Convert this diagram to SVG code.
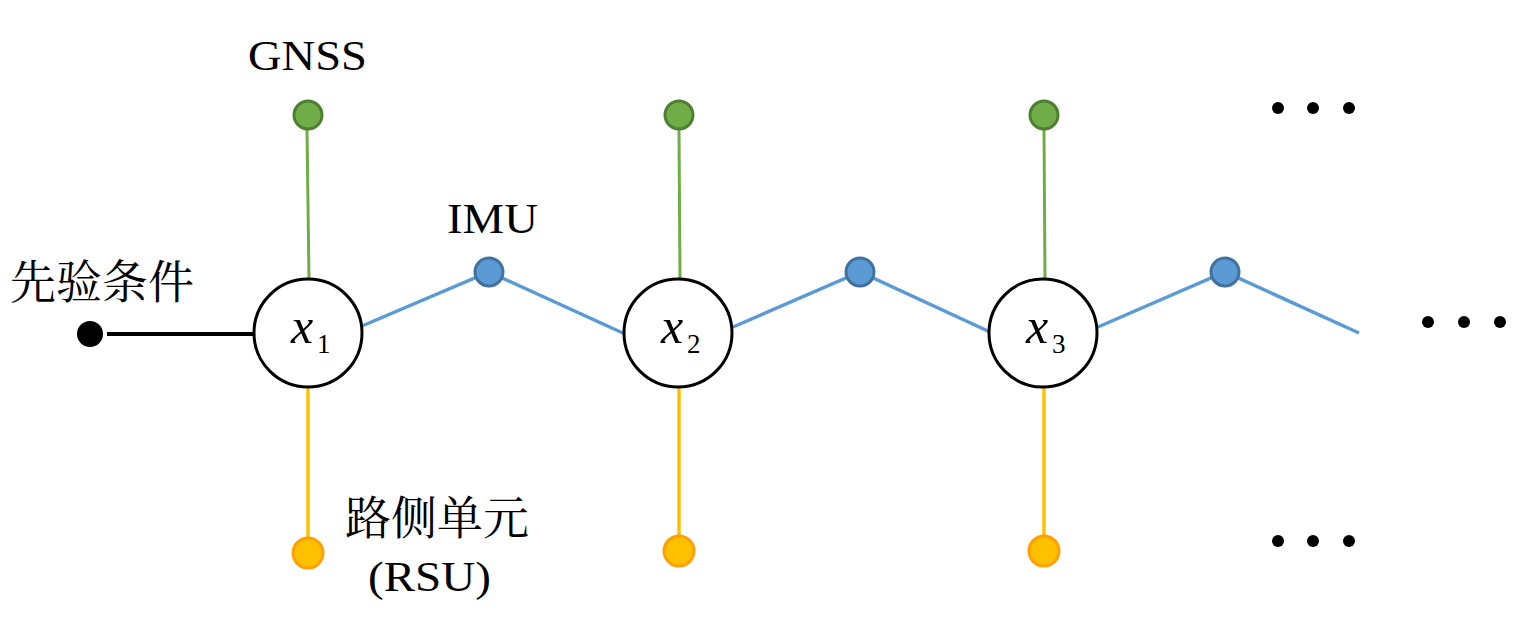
<svg xmlns="http://www.w3.org/2000/svg" width="1524" height="633" viewBox="0 0 1524 633">
<style>
.lbl{font-family:"Liberation Serif","Times New Roman",serif;font-size:42px;fill:#000}
.cjk{font-family:"Liberation Serif","Noto Serif CJK SC","Noto Sans CJK SC",serif;font-size:46px;fill:#000}
.var{font-family:"Liberation Serif","DejaVu Serif",serif;fill:#000}
.state{fill:#fff;stroke:#000;stroke-width:3}
.g{fill:#70AD47;stroke:#507E32;stroke-width:3}
.b{fill:#5B9BD5;stroke:#41719C;stroke-width:3}
.o{fill:#FFC000;stroke:#FF9F00;stroke-width:3}
.gl{stroke:#70AD47;stroke-width:3;fill:none}
.bl{stroke:#5B9BD5;stroke-width:3.5;fill:none}
.ol{stroke:#FFC000;stroke-width:3.5;fill:none}
.dot{fill:#000}
</style>
<g id="connectors">
<line x1="107" y1="334" x2="254" y2="334" stroke="#000" stroke-width="4"/>
<line class="gl" x1="307" y1="130" x2="309" y2="279"/>
<line class="gl" x1="679" y1="130" x2="680" y2="279"/>
<line class="gl" x1="1044" y1="130" x2="1045" y2="279"/>
<line class="ol" x1="308" y1="388" x2="308" y2="538"/>
<line class="ol" x1="679" y1="388" x2="679" y2="536"/>
<line class="ol" x1="1044" y1="388" x2="1044" y2="536"/>
<polyline class="bl" points="362,326 489,272 625,334"/>
<polyline class="bl" points="733,327 860,272 990,332"/>
<polyline class="bl" points="1098,327 1225,272 1359,333"/>
</g>
<g id="prior">
<circle cx="90" cy="334" r="13" fill="#000"/>
<text class="cjk" x="10" y="298">先验条件</text>
</g>
<g id="x1">
<circle class="state" cx="308" cy="333" r="54"/>
<text class="var" x="291" y="343" font-size="50" font-style="italic">x</text>
<text class="var" x="317" y="353" font-size="27">1</text>
</g>
<g id="x2">
<circle class="state" cx="678" cy="333" r="54"/>
<text class="var" x="661" y="343" font-size="50" font-style="italic">x</text>
<text class="var" x="687" y="353" font-size="27">2</text>
</g>
<g id="x3">
<circle class="state" cx="1043" cy="333" r="54"/>
<text class="var" x="1026" y="343" font-size="50" font-style="italic">x</text>
<text class="var" x="1052" y="353" font-size="27">3</text>
</g>
<g id="gnss1"><circle class="g" cx="308" cy="115" r="14"/><text class="lbl" x="248" y="70" textLength="119" lengthAdjust="spacingAndGlyphs">GNSS</text></g>
<g id="gnss2"><circle class="g" cx="679" cy="115" r="14"/></g>
<g id="gnss3"><circle class="g" cx="1044" cy="115" r="14"/></g>
<g id="imu1"><circle class="b" cx="489" cy="272" r="14"/><text class="lbl" x="447" y="233" font-size="44" textLength="91" lengthAdjust="spacingAndGlyphs">IMU</text></g>
<g id="imu2"><circle class="b" cx="860" cy="272" r="14"/></g>
<g id="imu3"><circle class="b" cx="1225" cy="272" r="14"/></g>
<g id="rsu1"><circle class="o" cx="308" cy="553" r="15"/>
<text class="cjk" x="345" y="534">路侧单元</text>
<text class="lbl" x="368" y="591" textLength="123" lengthAdjust="spacingAndGlyphs">(RSU)</text></g>
<g id="rsu2"><circle class="o" cx="679" cy="551" r="15"/></g>
<g id="rsu3"><circle class="o" cx="1044" cy="551" r="15"/></g>
<g id="ellipsis">
<circle class="dot" cx="1278" cy="108" r="6"/><circle class="dot" cx="1313" cy="108" r="6"/><circle class="dot" cx="1349" cy="108" r="6"/>
<circle class="dot" cx="1428" cy="322" r="6"/><circle class="dot" cx="1464" cy="322" r="6"/><circle class="dot" cx="1500" cy="322" r="6"/>
<circle class="dot" cx="1278" cy="541" r="6"/><circle class="dot" cx="1313" cy="541" r="6"/><circle class="dot" cx="1349" cy="541" r="6"/>
</g>
</svg>
